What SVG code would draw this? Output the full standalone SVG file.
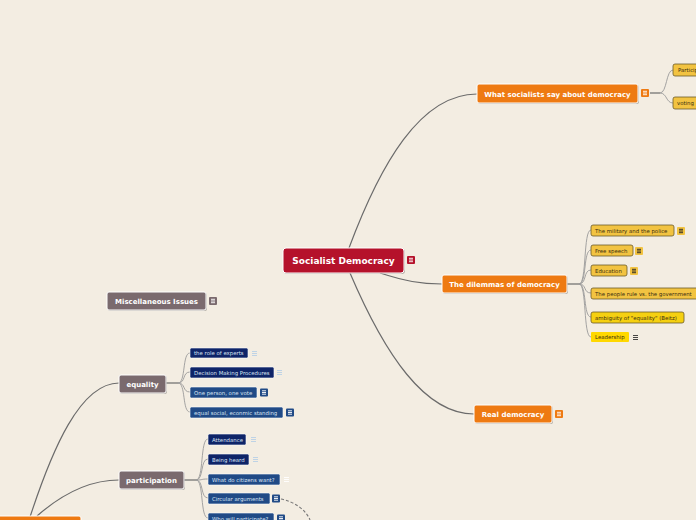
<svg xmlns="http://www.w3.org/2000/svg" width="696" height="520" viewBox="0 0 696 520">
<style>
text{font-family:"DejaVu Sans","Liberation Sans",sans-serif;}
.c{fill:none;stroke:#6b6b6b;stroke-width:1.2;}
.cs{fill:none;stroke:#9a9a9a;stroke-width:0.9;}
.sh{fill:#000;opacity:0.25;}
.t1{font-size:7px;font-weight:bold;fill:#fff;text-anchor:middle;}
.t0{font-size:9px;font-weight:bold;fill:#fff;text-anchor:middle;}
.ty{font-size:5.4px;fill:#3a2e10;}
.tb{font-size:5.4px;fill:#d8e2f2;}
.or{fill:#ee7a12;stroke:#fff;stroke-width:1;}
.gr{fill:#7a6a6e;stroke:#fff;stroke-width:1;}
.ye{fill:#f2c341;stroke:#6b5a2a;stroke-width:0.8;}
.nv{fill:#0e2468;stroke:#fff;stroke-width:0.6;}
.bl{fill:#204a86;stroke:#fff;stroke-width:0.6;}
</style>
<defs>
<g id="ic"><rect x="0" y="0" width="8" height="8" rx="1"/><path d="M2,2.3h4M2,4h4M2,5.7h4" stroke="#fff" stroke-width="0.9"/></g>
<g id="iy"><rect x="0" y="0" width="8" height="8" rx="1" fill="#f2c341"/><path d="M2,2.3h4M2,4h4M2,5.7h4" stroke="#222" stroke-width="0.9"/></g>
<g id="il"><path d="M0,1.5h5M0,3.5h5M0,5.5h5" stroke-width="0.9"/></g>
</defs>
<rect width="696" height="520" fill="#f3ede2"/>
<g id="connectors">
<path class="c" d="M349,248 C380,165 420,94 477,94"/>
<path class="c" d="M380,273 C405,281 420,284 442,284"/>
<path class="c" d="M350,273 C385,355 425,414 474,414"/>
<path class="c" d="M30,517 C52,450 80,383 119,383"/>
<path class="c" d="M37,516 C62,494 90,480 119,480"/>
<path class="c" d="M650,93 H660"/>
<path class="cs" d="M660,93 C667,93 666,70 673,70 M660,93 C667,93 666,103 673,103"/>
<path class="c" d="M567,284 H579"/>
<path class="cs" d="M579,284 C587,284 583,230 591,230 M579,284 C587,284 583,250 591,250 M579,284 C587,284 583,270 591,270 M579,284 C587,284 583,293 591,293 M579,284 C587,284 583,317 591,317 M579,284 C587,284 583,337 591,337"/>
<path class="c" d="M166,383 H178"/>
<path class="cs" d="M178,383 C186,383 182,353 190,353 M178,383 C186,383 182,372 190,372 M178,383 C186,383 182,392 190,392 M178,383 C186,383 182,412 190,412"/>
<path class="c" d="M184,480 H196"/>
<path class="cs" d="M196,480 C204,480 200,439 208,439 M196,480 C204,480 200,459 208,459 M196,480 C204,480 200,479 208,479 M196,480 C204,480 200,498 208,498 M196,480 C204,480 200,518 208,518"/>
<path d="M281,499 C295,502 306,510 310,520" fill="none" stroke="#777" stroke-width="1.1" stroke-dasharray="3,2"/>
</g>
<g id="central">
<rect class="sh" x="284" y="249" width="121" height="25" rx="3"/>
<rect x="283" y="248" width="121" height="25" rx="3" fill="#b5122b" stroke="#fff" stroke-width="1"/>
<text class="t0" x="343.5" y="264">Socialist Democracy</text>
<use href="#ic" x="407" y="256" fill="#b5122b"/>
</g>
<g id="what">
<rect class="sh" x="478" y="85" width="161" height="19" rx="2"/>
<rect class="or" x="477" y="84" width="161" height="19" rx="2"/>
<text class="t1" x="557.5" y="96.5">What socialists say about democracy</text>
<use href="#ic" x="641" y="89" fill="#ee7a12"/>
</g>
<g id="particip"><rect class="ye" x="673" y="64" width="30" height="12" rx="2"/><text class="ty" x="678" y="72">Particip</text></g>
<g id="voting"><rect class="ye" x="673" y="97" width="30" height="12" rx="2"/><text class="ty" x="677" y="105">voting</text></g>
<g id="dilemmas">
<rect class="sh" x="443" y="276" width="125" height="18" rx="2"/>
<rect class="or" x="442" y="275" width="125" height="18" rx="2"/>
<text class="t1" x="504.5" y="287">The dilemmas of democracy</text>
</g>
<g id="military"><rect class="ye" x="591" y="225" width="83" height="11" rx="2"/><text class="ty" x="595" y="232.5">The military and the police</text><use href="#iy" x="677" y="227"/></g>
<g id="speech"><rect class="ye" x="591" y="245" width="42" height="11" rx="2"/><text class="ty" x="595" y="252.5">Free speech</text><use href="#iy" x="635" y="247"/></g>
<g id="education"><rect class="ye" x="591" y="265" width="36" height="11" rx="2"/><text class="ty" x="595" y="272.5">Education</text><use href="#iy" x="630" y="267"/></g>
<g id="people"><rect class="ye" x="591" y="288" width="110" height="11" rx="2"/><text class="ty" x="595" y="295.5">The people rule vs. the government</text></g>
<g id="ambiguity"><rect x="591" y="312" width="93" height="11" rx="2" fill="#f5d010" stroke="#6b5a2a" stroke-width="0.8"/><text class="ty" x="595" y="319.5">ambiguity of "equality" (Beitz)</text></g>
<g id="leadership"><rect x="591" y="332" width="38" height="10" rx="1" fill="#ffd800"/><text class="ty" x="595" y="339">Leadership</text><use href="#il" x="633" y="334" stroke="#333"/></g>
<g id="real">
<rect class="sh" x="475" y="406" width="78" height="18" rx="2"/>
<rect class="or" x="474" y="405" width="78" height="18" rx="2"/>
<text class="t1" x="513" y="417">Real democracy</text>
<use href="#ic" x="555" y="410" fill="#ee7a12"/>
</g>
<g id="misc">
<rect class="sh" x="108" y="293" width="99" height="18" rx="2"/>
<rect class="gr" x="107" y="292" width="99" height="18" rx="2"/>
<text class="t1" x="156.5" y="304">Miscellaneous Issues</text>
<use href="#ic" x="209" y="297" fill="#7a6a6e"/>
</g>
<g id="equality">
<rect class="sh" x="120" y="376" width="47" height="18" rx="2"/>
<rect class="gr" x="119" y="375" width="47" height="18" rx="2"/>
<text class="t1" x="142.5" y="387">equality</text>
</g>
<g id="experts"><rect class="nv" x="190" y="348" width="58" height="10" rx="1.5"/><text class="tb" x="194" y="355">the role of experts</text><use href="#il" x="252" y="350" stroke="#b8d0e6"/></g>
<g id="decision"><rect class="nv" x="190" y="367" width="84" height="11" rx="1.5"/><text class="tb" x="194" y="374.5">Decision Making Procedures</text><use href="#il" x="277" y="369" stroke="#b8d0e6"/></g>
<g id="oneperson"><rect class="bl" x="190" y="387" width="67" height="11" rx="1.5"/><text class="tb" x="194" y="394.5">One person, one vote</text><use href="#ic" x="260" y="388.5" fill="#204a86"/></g>
<g id="equalsocial"><rect class="bl" x="190" y="407" width="93" height="11" rx="1.5"/><text class="tb" x="194" y="414.5">equal social, econmic standing</text><use href="#ic" x="286" y="408.5" fill="#204a86"/></g>
<g id="participation">
<rect class="sh" x="120" y="472" width="65" height="18" rx="2"/>
<rect class="gr" x="119" y="471" width="65" height="18" rx="2"/>
<text class="t1" x="151.5" y="483">participation</text>
</g>
<g id="attendance"><rect class="nv" x="208" y="434" width="38" height="11" rx="1.5"/><text class="tb" x="212" y="441.5">Attendance</text><use href="#il" x="251" y="436" stroke="#b8d0e6"/></g>
<g id="heard"><rect class="nv" x="208" y="454" width="41" height="11" rx="1.5"/><text class="tb" x="212" y="461.5">Being heard</text><use href="#il" x="253" y="456" stroke="#b8d0e6"/></g>
<g id="citizens"><rect class="bl" x="208" y="474" width="72" height="11" rx="1.5"/><text class="tb" x="212" y="481.5">What do citizens want?</text><use href="#il" x="284" y="476" stroke="#fff"/></g>
<g id="circular"><rect class="bl" x="208" y="493" width="62" height="11" rx="1.5"/><text class="tb" x="212" y="500.5">Circular arguments</text><use href="#ic" x="272" y="494.5" fill="#204a86"/></g>
<g id="who"><rect class="bl" x="208" y="513" width="66" height="11" rx="1.5"/><text class="tb" x="212" y="520.5">Who will participate?</text><use href="#ic" x="277" y="514.5" fill="#204a86"/></g>
<g id="bottomleft"><rect x="-2" y="516" width="83" height="12" rx="2" fill="#ee7a12" stroke="#fff" stroke-width="1"/></g>
</svg>
